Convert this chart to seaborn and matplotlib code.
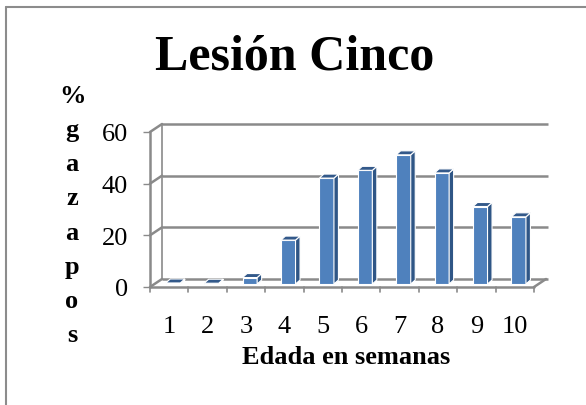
import matplotlib
matplotlib.use("Agg")
import matplotlib.pyplot as plt
from matplotlib.patches import Polygon
import seaborn as sns
import pandas as pd

# Data
weeks = ["1", "2", "3", "4", "5", "6", "7", "8", "9", "10"]
percent = [0.4, 0.3, 2.5, 17, 41, 44, 50, 43, 30, 26]
y_ticks = [0, 20, 40, 60]

title = "Lesión Cinco"
x_title = "Edada en semanas"
y_title = "%\ng\na\nz\na\np\no\ns"

sns.set_theme(style="white")
plt.rcParams["font.family"] = ["Liberation Serif", "DejaVu Serif"]
plt.rcParams["text.color"] = "black"
plt.rcParams["xtick.color"] = "black"
plt.rcParams["ytick.color"] = "black"

W, H = 586, 406
fig = plt.figure(figsize=(W / 100, H / 100), dpi=100)
fig.patch.set_facecolor("white")

# outer frame (left and top edges visible)
fig.add_artist(plt.Line2D([6 / W, 6 / W], [0, 1 - 8 / H], transform=fig.transFigure,
                          color="#8c8c8c", lw=1.5))
fig.add_artist(plt.Line2D([6 / W, 1], [1 - 8 / H, 1 - 8 / H], transform=fig.transFigure,
                          color="#8c8c8c", lw=1.5))

# plotting area: front plane x in category units, y in data units
left_px, right_px, bottom_px, top_px = 150, 548, 288, 124
ax = fig.add_axes([left_px / W, 1 - bottom_px / H, (right_px - left_px) / W,
                   (bottom_px - top_px) / H])
px_per_cat = 38.4
px_per_val = (288 - 133) / 60.0
xmin = -0.5
xmax = xmin + (right_px - left_px) / px_per_cat
ymax = (bottom_px - top_px) / px_per_val

# depth offset of the back wall
ddx = 12 / px_per_cat
ddy = 8 / px_per_val

grid_c = "#8a8a8a"
# back wall gridlines and side-wall diagonals
for v in y_ticks:
    ax.plot([xmin + ddx, xmax], [v + ddy, v + ddy], color=grid_c, lw=1.8,
            solid_capstyle="butt", zorder=1, clip_on=False)
    ax.plot([xmin, xmin + ddx], [v, v + ddy], color=grid_c, lw=1.8, zorder=1,
            clip_on=False)
# back-left vertical edge
ax.plot([xmin + ddx, xmin + ddx], [ddy, 60 + ddy], color=grid_c, lw=1.2, zorder=1)
# floor front edge and right edge
ax.plot([xmin, 9.5], [0, 0], color=grid_c, lw=1.8, zorder=2, clip_on=False)
ax.plot([9.5, 9.5 + ddx], [0, ddy], color=grid_c, lw=1.8, zorder=2, clip_on=False)
# left axis line
ax.plot([xmin, xmin], [0, 60], color=grid_c, lw=1.8, zorder=2, clip_on=False)

df = pd.DataFrame({"week": weeks, "percent": percent})
front = "#4f81bd"
sns.barplot(data=df, x="week", y="percent", ax=ax, color=front, saturation=1,
            width=0.38, edgecolor="white", linewidth=0.8, zorder=3)

# bars stand on the floor a little behind its front edge; add depth faces
base = 3 / px_per_val
bdx = 4.5 / px_per_cat
bdy = 4 / px_per_val
for p in list(ax.patches):
    p.set_x(p.get_x() + 0.1)
    p.set_y(p.get_y() + base)
    x0 = p.get_x()
    w = p.get_width()
    y0 = p.get_y()
    y1 = y0 + p.get_height()
    x1 = x0 + w
    side = Polygon([(x1, y0), (x1, y1), (x1 + bdx, y1 + bdy), (x1 + bdx, y0 + bdy)],
                   closed=True, facecolor="#2f5686", edgecolor="white", lw=0.8, zorder=3)
    top = Polygon([(x0, y1), (x1, y1), (x1 + bdx, y1 + bdy), (x0 + bdx, y1 + bdy)],
                  closed=True, facecolor="#33598a", edgecolor="white", lw=0.8, zorder=3)
    ax.add_patch(side)
    ax.add_patch(top)

ax.set_xlim(xmin, xmax)
ax.set_ylim(0, ymax)
for s in ax.spines.values():
    s.set_visible(False)
ax.set_facecolor("none")
ax.set_yticks(y_ticks)
ax.set_yticklabels([str(v) for v in y_ticks], fontsize=19)
ax.set_xticks(range(len(weeks)))
ax.set_xticklabels(weeks, fontsize=19)
ax.tick_params(axis="y", length=5, width=1, color=grid_c, pad=11, left=True,
               labelcolor="black")
ax.tick_params(axis="x", length=0, pad=20, labelcolor="black")
# x tick marks between categories
for i in range(len(weeks) + 1):
    ax.plot([xmin + i, xmin + i], [0, -5 / px_per_val], color=grid_c, lw=1.2,
            clip_on=False, zorder=2)
ax.set_xlabel("")
ax.set_ylabel("")

fig.text(295 / W, 1 - 57 / H, title, ha="center", va="center", fontsize=36,
         fontweight="bold", color="black")
fig.text(346 / W, 1 - 358 / H, x_title, ha="center", va="center", fontsize=19,
         fontweight="bold", color="black")
fig.text(72 / W, 1 - 216 / H, y_title, ha="center", va="center", fontsize=19,
         fontweight="bold", linespacing=1.62, color="black")

fig.savefig("out.png", dpi=100, facecolor="white")
